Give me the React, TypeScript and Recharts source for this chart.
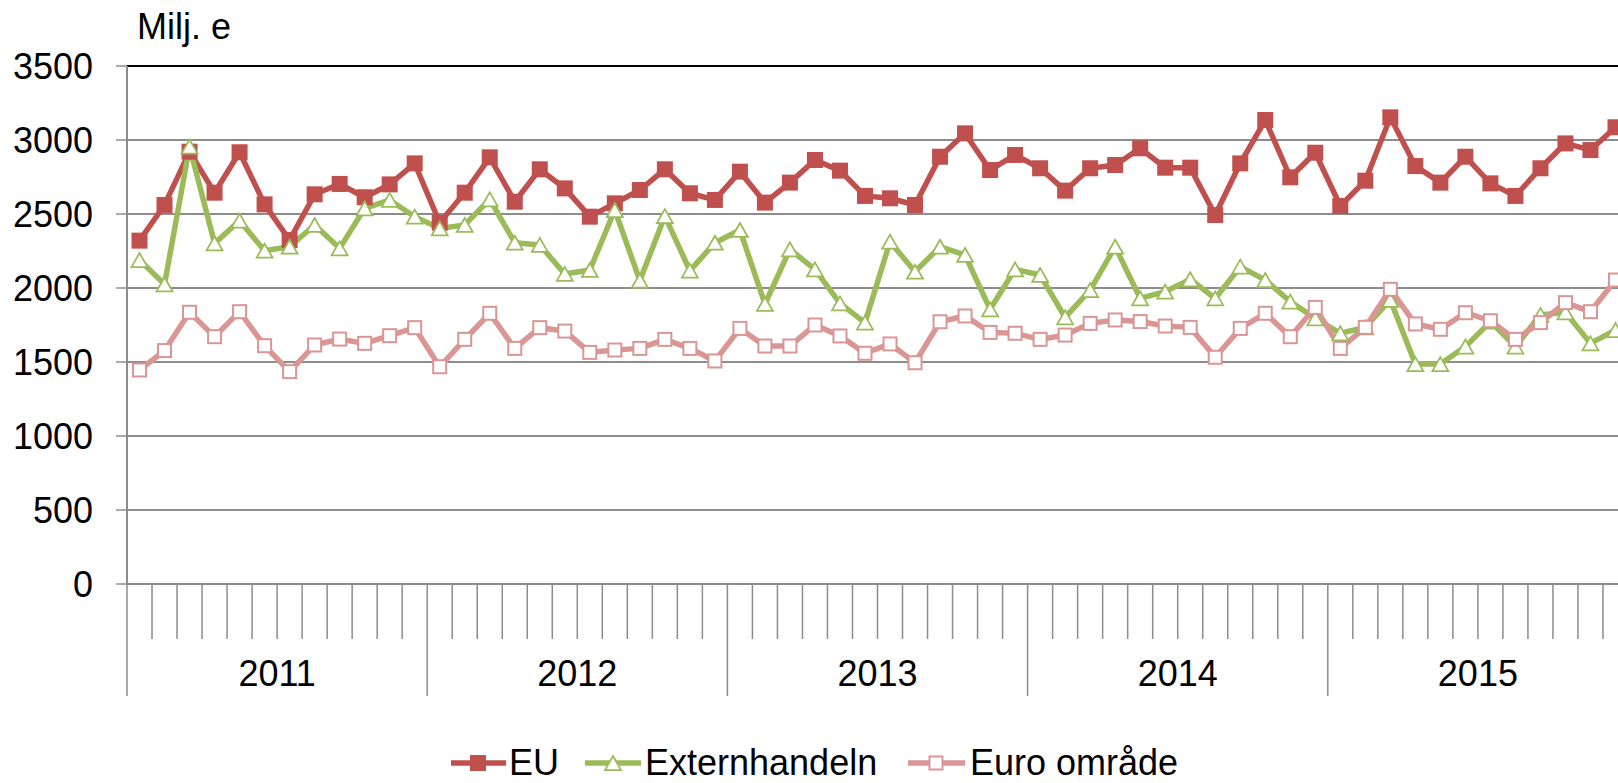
import { LineChart, Line, XAxis, YAxis, CartesianGrid, ReferenceLine } from 'recharts';

const years = ['2011', '2012', '2013', '2014', '2015'];

// Milj. e per month, Jan 2011 - Dec 2015
const eu = [
  2320, 2561, 2921, 2644, 2917, 2565, 2324, 2633, 2703, 2613, 2700, 2842,
  2441, 2644, 2883, 2583, 2802, 2673, 2482, 2572, 2662, 2802, 2640, 2595,
  2786, 2577, 2712, 2865, 2793, 2622, 2606, 2561, 2887, 3045, 2797, 2899,
  2809, 2658, 2809, 2831, 2944, 2813, 2813, 2493, 2842, 3135, 2748, 2914,
  2554, 2725, 3153, 2824, 2712, 2887, 2707, 2622, 2809, 2977, 2932, 3086,
];
const extern = [
  2189, 2025, 2955, 2302, 2455, 2252, 2279, 2426, 2268, 2538, 2595, 2482,
  2403, 2426, 2599, 2306, 2291, 2095, 2122, 2527, 2050, 2486, 2117, 2306,
  2392, 1892, 2261, 2126, 1896, 1766, 2313, 2110, 2279, 2223, 1856, 2126,
  2088, 1802, 1986, 2279, 1930, 1975, 2059, 1930, 2144, 2054, 1908, 1795,
  1694, 1734, 1919, 1486, 1486, 1604, 1773, 1604, 1818, 1836, 1626, 1716,
];
const euro = [
  1446, 1577, 1836, 1671, 1840, 1610, 1435, 1615, 1655, 1626, 1678, 1732,
  1468, 1653, 1829, 1592, 1732, 1709, 1565, 1581, 1592, 1653, 1592, 1507,
  1727, 1608, 1608, 1750, 1676, 1559, 1622, 1495, 1772, 1811, 1700, 1694,
  1653, 1682, 1761, 1784, 1773, 1743, 1734, 1532, 1727, 1829, 1671, 1869,
  1592, 1734, 1991, 1757, 1721, 1833, 1779, 1653, 1766, 1901, 1840, 2054,
];
const yTicks = [0, 500, 1000, 1500, 2000, 2500, 3000, 3500];

const data = eu.map((v, i) => ({ x: i + 0.5, eu: v, extern: extern[i], euro: euro[i] }));
const monthTicks = Array.from({ length: eu.length + 1 }, (_, k) => k);

const RED = '#C0504D';
const GREEN = '#9BBB59';
const PINK = '#D99694';
const GRID = '#8c8c8c';
const FONT = '"Liberation Sans", Arial, sans-serif';
const LW = 5.5;

const EuDot = (p: any) =>
  p.cx == null ? null : (
    <rect key={`eu-${p.index}`} x={p.cx - 8} y={p.cy - 8} width={16} height={16} fill={RED} />
  );

const TriDot = (p: any) =>
  p.cx == null ? null : (
    <polygon
      key={`ex-${p.index}`}
      points={`${p.cx},${p.cy - 7} ${p.cx + 8},${p.cy + 7} ${p.cx - 8},${p.cy + 7}`}
      fill="#fff"
      stroke={GREEN}
      strokeWidth={1.75}
    />
  );

const OpenSquare = (p: any) =>
  p.cx == null ? null : (
    <rect key={`eo-${p.index}`} x={p.cx - 6.5} y={p.cy - 6.5} width={13} height={13} fill="#fff" stroke={PINK} strokeWidth={2} />
  );

const MonthTick = (props: any) => {
  const { x, y, payload } = props;
  const k = payload.value as number;
  const yearStart = k % 12 === 0;
  return (
    <g>
      <line x1={x} x2={x} y1={y} y2={y + (yearStart ? 112 : 55)} stroke={GRID} strokeWidth={1.5} />
      {k % 12 === 6 && (
        <text x={x} y={y + 102} textAnchor="middle" fontSize={36} fontFamily={FONT} fill="#000">
          {years[(k - 6) / 12]}
        </text>
      )}
    </g>
  );
};

export default function App() {
  return (
    <div style={{ position: 'absolute', left: 0, top: 0, width: 1618, height: 783, overflow: 'hidden', background: '#fff' }}>
      <LineChart width={1640} height={783} data={data} margin={{ top: 66, right: 12, left: 0, bottom: 0 }}>
        <CartesianGrid vertical={false} stroke={GRID} strokeWidth={2} />
        <XAxis
          type="number"
          dataKey="x"
          domain={[0, 60]}
          ticks={monthTicks}
          interval={0}
          height={199}
          tickSize={0}
          tickMargin={0}
          tickLine={false}
          axisLine={{ stroke: GRID, strokeWidth: 2 }}
          tick={<MonthTick />}
        />
        <YAxis
          type="number"
          domain={[0, 3500]}
          ticks={yTicks}
          interval={0}
          width={127}
          tickSize={11}
          tickMargin={23}
          axisLine={{ stroke: GRID, strokeWidth: 2 }}
          tickLine={{ stroke: GRID, strokeWidth: 1.5 }}
          tick={{ fontSize: 36, fill: '#000', fontFamily: FONT }}
        />
        <ReferenceLine y={3500} stroke="#000" strokeWidth={2} />
        <Line dataKey="eu" stroke={RED} strokeWidth={LW} dot={EuDot} activeDot={false} isAnimationActive={false} />
        <Line dataKey="extern" stroke={GREEN} strokeWidth={LW} dot={TriDot} activeDot={false} isAnimationActive={false} />
        <Line dataKey="euro" stroke={PINK} strokeWidth={LW} dot={OpenSquare} activeDot={false} isAnimationActive={false} />
      </LineChart>
      <svg width={1618} height={783} style={{ position: 'absolute', left: 0, top: 0, pointerEvents: 'none' }}>
        <g fontFamily={FONT} fontSize={36} fill="#000">
          <text x={137} y={39}>Milj. e</text>

          <line x1={451} x2={506} y1={763} y2={763} stroke={RED} strokeWidth={LW} />
          <rect x={470} y={755} width={16} height={16} fill={RED} />
          <text x={509} y={775}>EU</text>

          <line x1={585} x2={641} y1={763} y2={763} stroke={GREEN} strokeWidth={LW} />
          <polygon points="613,756 621,770 605,770" fill="#fff" stroke={GREEN} strokeWidth={1.75} />
          <text x={645} y={775}>Externhandeln</text>

          <line x1={908} x2={965} y1={763} y2={763} stroke={PINK} strokeWidth={LW} />
          <rect x={929.5} y={756.5} width={13} height={13} fill="#fff" stroke={PINK} strokeWidth={2} />
          <text x={970} y={775}>Euro område</text>
        </g>
      </svg>
    </div>
  );
}
